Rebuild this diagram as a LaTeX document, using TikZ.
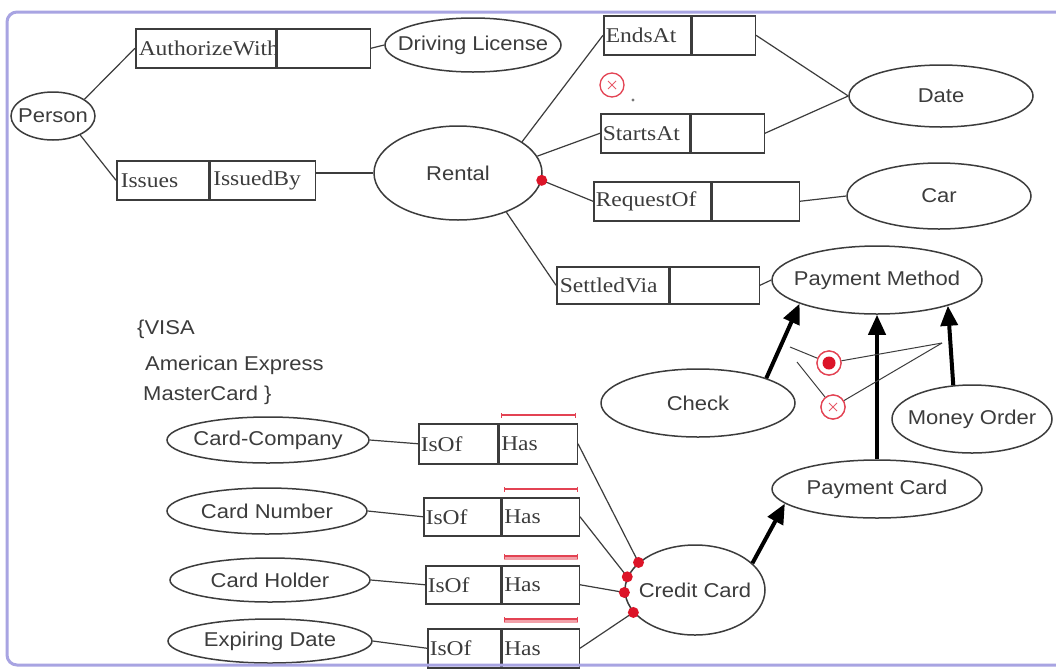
\documentclass[tikz,border=0pt]{standalone}
\usepackage{fontspec}
\setmainfont{Liberation Sans}
\newfontfamily\boxfont[FakeStretch=1.12]{Liberation Serif}
\newfontfamily\ellfont[FakeStretch=1.1]{Liberation Sans}
\usetikzlibrary{shapes.geometric,arrows.meta,calc}
\definecolor{frameblue}{RGB}{168,164,226}
\definecolor{ink}{RGB}{60,60,60}
\definecolor{cred}{RGB}{220,20,40}
\begin{document}
\begin{tikzpicture}[x=1pt,y=-1pt,
 ent/.style={ellipse, draw=ink, line width=1.5pt, fill=white, inner sep=0pt, font=\ellfont\fontsize{20}{24}\selectfont, text=ink},
 cell/.style={rectangle, draw=ink, line width=1.5pt, fill=white, inner sep=0pt, anchor=north west, minimum height=39pt, font=\boxfont\fontsize{21}{24}\selectfont, text=ink},
 conn/.style={draw=ink, line width=1.2pt},
 isa/.style={draw=black, line width=4pt, -{Triangle[length=20pt,width=17pt]}},
 uniq/.style={draw=cred!80, line width=1.3pt, {Bar[width=5pt]}-{Bar[width=5pt]}},
 uniqb/.style={draw=cred!40, line width=4pt},
 reddot/.style={circle, fill=cred, inner sep=0pt, minimum size=11pt},
 ring/.style={circle, draw=cred!80, line width=1.3pt, fill=white, inner sep=0pt, minimum size=24pt},
 note/.style={anchor=west, inner sep=0pt, font=\ellfont\fontsize{20}{24}\selectfont, text=ink}
]
\useasboundingbox[fill=white] (0,0) rectangle (1056,670);

% ---------- upper part ----------
\node[ent, minimum width=84pt, minimum height=48pt] (person) at (53,116) {\makebox[0pt]{Person}};
\node[cell, minimum width=140pt] (aw1) at (135,28) {\makebox[140pt][l]{\hspace{3pt}AuthorizeWith}};
\node[cell, minimum width=93pt] (aw2) at (aw1.north east) {};
\node[ent, minimum width=176pt, minimum height=54pt] (dl) at (473,45) {\makebox[0pt]{Driving License}};
\node[cell, minimum width=92pt] (iss1) at (116,160) {\makebox[92pt][l]{\hspace{4pt}Issues}};
\node[cell, minimum width=105pt] (iss2) at (iss1.north east) {\makebox[105pt][l]{\hspace{3pt}IssuedBy}};
\node[ent, minimum width=168pt, minimum height=94pt] (rental) at (458,173) {\makebox[0pt]{Rental}};

\node[cell, minimum width=87pt] (end1) at (603,15) {\makebox[87pt][l]{\hspace{2pt}EndsAt}};
\node[cell, minimum width=63pt] (end2) at (end1.north east) {};
\node[cell, minimum width=89pt] (sta1) at (600,113) {\makebox[89pt][l]{\hspace{2pt}StartsAt}};
\node[cell, minimum width=73pt] (sta2) at (sta1.north east) {};
\node[cell, minimum width=117pt] (req1) at (593,181) {\makebox[117pt][l]{\hspace{2pt}RequestOf}};
\node[cell, minimum width=87pt] (req2) at (req1.north east) {};
\node[cell, minimum width=112pt, minimum height=37pt] (set1) at (556,266) {\makebox[112pt][l]{\hspace{3pt}SettledVia}};
\node[cell, minimum width=89pt, minimum height=37pt] (set2) at (set1.north east) {};

\node[ent, minimum width=184pt, minimum height=62pt] (date) at (941,96) {\makebox[0pt]{Date}};
\node[ent, minimum width=184pt, minimum height=66pt] (car) at (939,196) {\makebox[0pt]{Car}};
\node[ent, minimum width=210pt, minimum height=68pt] (pm) at (877,280) {\makebox[0pt]{Payment Method}};

\node[ring] (xa) at (612,85) {};
\draw[cred!70, line width=1pt] ($(xa)+(-4,-4)$) -- ($(xa)+(4,4)$) ($(xa)+(-4,4)$) -- ($(xa)+(4,-4)$);
\fill[ink!70] (633,100) circle (1.6);

\draw[conn] (person.28) -- (aw1.west);
\draw[conn] (person.-35) -- (iss1.west);
\draw[conn] (aw2.east) -- (dl.west);
\draw[conn] (rental.west -| iss2.east) -- (rental.west);
\draw[conn] (rental.26) -- (end1.west);
\draw[conn] (rental.12) -- (sta1.west);
\draw[conn] (rental.-5) -- (req1.west);
\draw[conn] (rental.-39) -- (set1.west);
\node[reddot] (rdot) at (rental.-5) {};
\draw[conn] (end2.east) -- (date.west);
\draw[conn] (sta2.east) -- (date.west);
\draw[conn] (req2.east) -- (car.west);
\draw[conn] (set2.east) -- (pm.west);

% ---------- lower part ----------
\node[note] (visa) at (137,329) {\{VISA};
\node[note] (amex) at (145,365) {American Express};
\node[note] (mc) at (143,395) {MasterCard \}};

\node[ent, minimum width=202pt, minimum height=46pt] (ccomp) at (268,440) {\makebox[0pt]{Card-Company}};
\node[ent, minimum width=200pt, minimum height=46pt] (cnum) at (267,511) {\makebox[0pt]{Card Number}};
\node[ent, minimum width=200pt, minimum height=44pt] (chold) at (270,580) {\makebox[0pt]{Card Holder}};
\node[ent, minimum width=204pt, minimum height=44pt] (cexp) at (270,641) {\makebox[0pt]{Expiring Date}};

\node[cell, minimum width=79pt, minimum height=40pt] (iof1) at (418,423) {\makebox[79pt][l]{\hspace{2pt}IsOf}};
\node[cell, minimum width=78pt, minimum height=40pt] (has1) at (iof1.north east) {\makebox[78pt][l]{\hspace{2pt}Has}};
\node[cell, minimum width=77pt, minimum height=38pt] (iof2) at (423,497) {\makebox[77pt][l]{\hspace{2pt}IsOf}};
\node[cell, minimum width=77pt, minimum height=38pt] (has2) at (iof2.north east) {\makebox[77pt][l]{\hspace{2pt}Has}};
\node[cell, minimum width=75pt, minimum height=38pt] (iof3) at (425,565) {\makebox[75pt][l]{\hspace{2pt}IsOf}};
\node[cell, minimum width=77pt, minimum height=38pt] (has3) at (iof3.north east) {\makebox[77pt][l]{\hspace{2pt}Has}};
\node[cell, minimum width=73pt, minimum height=39pt] (iof4) at (427,628) {\makebox[73pt][l]{\hspace{2pt}IsOf}};
\node[cell, minimum width=77pt, minimum height=39pt] (has4) at (iof4.north east) {\makebox[77pt][l]{\hspace{2pt}Has}};

\draw[uniq] ($(has1.north west)+(2,-8)$) -- ($(has1.north east)+(-2,-8)$);
\draw[uniq] ($(has2.north west)+(2,-8)$) -- ($(has2.north east)+(-2,-8)$);
\draw[uniqb] ($(has3.north west)+(2,-7)$) -- ($(has3.north east)+(-2,-7)$);
\draw[uniq] ($(has3.north west)+(2,-9)$) -- ($(has3.north east)+(-2,-9)$);
\draw[uniqb] ($(has4.north west)+(2,-7)$) -- ($(has4.north east)+(-2,-7)$);
\draw[uniq] ($(has4.north west)+(2,-9)$) -- ($(has4.north east)+(-2,-9)$);

\node[ent, minimum width=140pt, minimum height=90pt] (cc) at (695,590) {\makebox[0pt]{Credit Card}};
\node[ent, minimum width=194pt, minimum height=68pt] (check) at (698,403) {\makebox[0pt]{Check}};
\node[ent, minimum width=160pt, minimum height=68pt] (mo) at (972,419) {\makebox[0pt]{Money Order}};
\node[ent, minimum width=210pt, minimum height=58pt] (pc) at (877,489) {\makebox[0pt]{Payment Card}};

\draw[conn] (ccomp.east) -- (iof1.west);
\draw[conn] (cnum.east) -- (iof2.west);
\draw[conn] (chold.east) -- (iof3.west);
\draw[conn] (cexp.east) -- (iof4.west);
\draw[conn] (has1.east) -- (cc.154);
\draw[conn] (has2.east) -- (cc.169);
\draw[conn] (has3.east) -- (cc.182);
\draw[conn] (has4.east) -- (cc.200);
\node[reddot] at (cc.154) {};
\node[reddot] at (cc.169) {};
\node[reddot] at (cc.182) {};
\node[reddot] at (cc.200) {};

% subtype arrows
\draw[isa] (check.20) -- (pm.197);
\draw[isa] (pc.north) -- (pm.south);
\draw[isa] (mo.119) -- (pm.-20);
\draw[isa] (cc.25) -- (pc.189);

% exclusion / total constraints
\coordinate (k1) at (790,347);
\coordinate (k2) at (797,362);
\coordinate (k3) at (942,343);
\node[ring] (oc) at (829,363) {};
\node[ring] (xc) at (833,407) {};
\draw[conn, line width=1pt] (k1) -- (oc);
\draw[conn, line width=1pt] (oc) -- (k3);
\draw[conn, line width=1pt] (k2) -- (xc);
\draw[conn, line width=1pt] (xc) -- (k3);
\node[ring] at (oc) {};
\node[ring] at (xc) {};
\fill[cred] (oc) circle (6.5);
\draw[cred!70, line width=1pt] ($(xc)+(-4,-4)$) -- ($(xc)+(4,4)$) ($(xc)+(-4,4)$) -- ($(xc)+(4,-4)$);

% frame
\draw[frameblue, line width=3pt, rounded corners=10pt] (7,12) rectangle (1080,665);
\end{tikzpicture}
\end{document}
